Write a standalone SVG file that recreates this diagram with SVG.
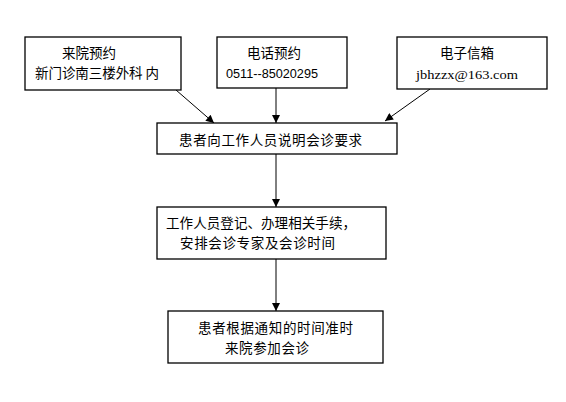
<svg xmlns="http://www.w3.org/2000/svg" width="566" height="402" viewBox="0 0 566 402">
<style>
.box{fill:#fff;stroke:#000;stroke-width:1.3}
.t{font-family:"Noto Sans CJK SC","Noto Sans",sans-serif;font-size:13.5px;fill:#000}
.d{font-family:"Liberation Sans",sans-serif;font-size:12px;fill:#000}
.s{font-family:"Liberation Serif",serif;font-size:13px;fill:#000}
.c{stroke:#000;stroke-width:1;fill:none;marker-end:url(#ah)}
</style>
<defs>
<marker id="ah" viewBox="0 0 10 10" refX="10" refY="5" markerWidth="9" markerHeight="8" markerUnits="userSpaceOnUse" orient="auto">
<path d="M0,0 L10,5 L0,10 z" fill="#000"/>
</marker>
</defs>
<rect width="566" height="402" fill="#fff"/>
<g id="connectors">
<line class="c" x1="176" y1="90" x2="214" y2="123"/>
<line class="c" x1="276" y1="88" x2="276" y2="123"/>
<line class="c" x1="430" y1="89" x2="385" y2="121"/>
<line class="c" x1="276" y1="154" x2="276" y2="207"/>
<line class="c" x1="276" y1="259" x2="276" y2="311"/>
</g>
<g id="node1">
<rect class="box" x="25" y="37" width="156" height="53"/>
<text class="t" x="62" y="58">来院预约</text>
<text class="t" x="35" y="78" textLength="124" lengthAdjust="spacing">新门诊南三楼外科 内</text>
</g>
<g id="node2">
<rect class="box" x="217" y="37" width="130" height="51"/>
<text class="t" x="247" y="58">电话预约</text>
<text class="d" x="226" y="78" textLength="92" lengthAdjust="spacingAndGlyphs">0511--85020295</text>
</g>
<g id="node3">
<rect class="box" x="397" y="37" width="150" height="52"/>
<text class="t" x="440" y="58">电子信箱</text>
<text class="s" x="416" y="79" textLength="102" lengthAdjust="spacingAndGlyphs">jbhzzx@163.com</text>
</g>
<g id="node4">
<rect class="box" x="157" y="123" width="240" height="31"/>
<text class="t" x="179" y="145" textLength="183" lengthAdjust="spacing">患者向工作人员说明会诊要求</text>
</g>
<g id="node5">
<rect class="box" x="157" y="207" width="229" height="52"/>
<text class="t" x="166" y="228" textLength="190" lengthAdjust="spacing">工作人员登记、办理相关手续，</text>
<text class="t" x="180" y="248" textLength="155" lengthAdjust="spacing">安排会诊专家及会诊时间</text>
</g>
<g id="node6">
<rect class="box" x="168" y="311" width="215" height="52"/>
<text class="t" x="198" y="333" textLength="155" lengthAdjust="spacing">患者根据通知的时间准时</text>
<text class="t" x="225" y="353" textLength="84" lengthAdjust="spacing">来院参加会诊</text>
</g>
</svg>
